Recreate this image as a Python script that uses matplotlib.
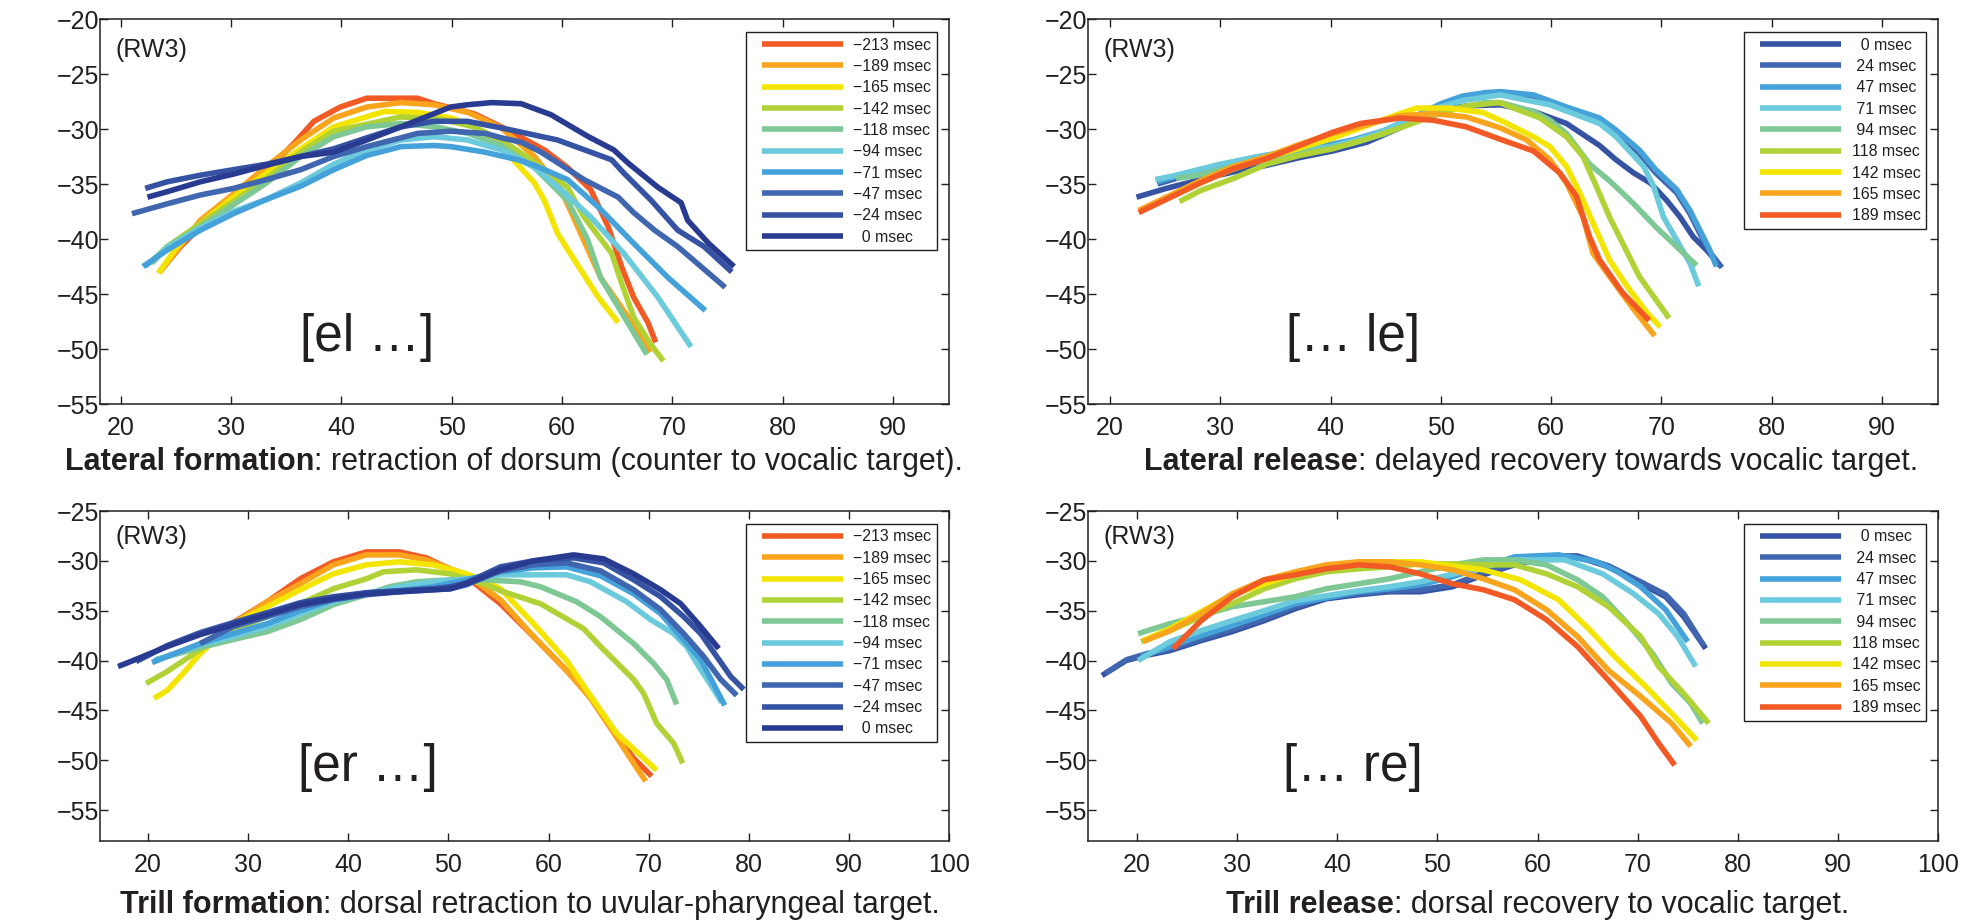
import matplotlib
matplotlib.use('Agg')
import matplotlib.pyplot as plt
from matplotlib.lines import Line2D
from matplotlib.legend_handler import HandlerLine2D
from matplotlib.transforms import IdentityTransform

plt.rcParams['font.family'] = ['Liberation Sans', 'DejaVu Sans']

TEXT = '#231F20'
C_RED = '#F15A24'
C_ORANGE = '#F8A51D'
C_YELLOW = '#F4E500'
C_YGREEN = '#B1D236'
C_GREEN = '#7DC895'
C_CYAN = '#6BCBDC'
C_BLUE = '#44A1DA'
C_MBLUE = '#3F66AF'
C_DBLUE = '#3653A3'
C_NAVY = '#283B90'

# ---------------- Panel 1: lateral formation ----------------
P1_LABELS = ['\u2212213 msec', '\u2212189 msec', '\u2212165 msec', '\u2212142 msec', '\u2212118 msec',
             '\u221294 msec', '\u221271 msec', '\u221247 msec', '\u221224 msec', '  0 msec']
P1_COLORS = [C_RED, C_ORANGE, C_YELLOW, C_YGREEN, C_GREEN, C_CYAN, C_BLUE, C_MBLUE, C_DBLUE, C_NAVY]
p1_x_m213 = [23.5, 25.4, 27.2, 29.6, 32.0, 33.9, 35.7, 37.5, 39.9, 42.3, 46.9, 48.4, 52.0, 54.5, 58.4, 60.5, 62.6, 64.2, 65.4, 66.5, 67.8, 68.5]
p1_y_m213 = [-43.0, -40.7, -38.9, -36.5, -34.6, -33.1, -31.3, -29.3, -28.0, -27.2, -27.2, -27.7, -28.6, -29.8, -31.9, -33.5, -35.5, -38.9, -42.5, -45.3, -47.6, -49.4]
p1_x_m189 = [23.5, 27.2, 30.2, 33.2, 36.3, 39.3, 42.3, 45.4, 48.4, 51.5, 54.5, 57.5, 59.9, 61.7, 63.5, 66.0, 68.0]
p1_y_m189 = [-43.0, -38.3, -35.9, -33.4, -31.0, -29.0, -28.0, -27.6, -27.8, -28.5, -29.9, -32.5, -35.5, -39.5, -43.5, -47.1, -50.3]
p1_x_m165 = [23.4, 25.1, 27.2, 30.2, 33.2, 36.3, 39.3, 43.9, 47.0, 50.0, 52.0, 54.5, 57.5, 58.4, 59.6, 61.5, 63.3, 65.1]
p1_y_m165 = [-43.1, -40.7, -38.6, -36.2, -34.0, -31.8, -29.8, -28.4, -28.5, -29.0, -29.8, -31.6, -34.9, -36.5, -39.5, -42.5, -45.3, -47.6]
p1_x_m142 = [22.6, 24.2, 27.2, 30.2, 33.2, 36.3, 39.3, 45.4, 49.0, 52.0, 54.5, 57.5, 60.5, 62.0, 64.5, 65.4, 66.5, 68.0, 69.2]
p1_y_m142 = [-42.2, -40.7, -38.6, -36.6, -34.5, -32.1, -30.2, -28.9, -29.1, -29.8, -31.0, -33.0, -35.3, -38.0, -41.3, -44.0, -47.1, -49.5, -51.1]
p1_x_m118 = [22.8, 24.2, 27.2, 30.2, 33.2, 36.3, 39.3, 42.3, 45.4, 48.5, 51.5, 54.5, 57.5, 60.5, 62.3, 63.5, 65.0, 66.5, 67.7]
p1_y_m118 = [-42.2, -40.7, -38.9, -36.9, -34.9, -32.5, -30.7, -29.8, -29.5, -29.8, -30.4, -31.5, -33.5, -36.5, -40.0, -43.5, -46.0, -48.5, -50.5]
p1_x_m94 = [22.2, 24.2, 27.2, 30.2, 33.2, 36.3, 39.3, 42.3, 45.4, 48.4, 51.4, 54.5, 57.5, 59.9, 62.6, 65.6, 68.7, 71.7]
p1_y_m94 = [-42.5, -40.8, -39.0, -37.5, -36.4, -34.9, -33.2, -31.9, -31.0, -30.7, -31.0, -31.9, -33.5, -35.5, -38.0, -41.3, -45.3, -49.8]
p1_x_m71 = [22.0, 24.2, 27.2, 30.2, 33.2, 36.3, 39.3, 42.3, 45.4, 48.4, 49.9, 53.0, 56.0, 57.5, 60.5, 63.3, 66.5, 69.6, 73.0]
p1_y_m71 = [-42.5, -41.0, -39.2, -37.7, -36.4, -35.2, -33.7, -32.4, -31.6, -31.5, -31.6, -32.1, -32.8, -33.3, -34.6, -37.1, -40.4, -43.5, -46.5]
p1_x_m47 = [21.0, 24.2, 27.2, 30.2, 33.2, 36.3, 39.3, 42.3, 45.4, 46.9, 49.9, 53.0, 54.5, 56.3, 58.1, 62.0, 65.1, 66.5, 68.4, 70.5, 72.6, 74.8]
p1_y_m47 = [-37.7, -36.8, -36.0, -35.4, -34.6, -33.7, -32.5, -31.6, -30.8, -30.4, -30.2, -30.4, -30.8, -31.2, -32.1, -34.6, -36.2, -37.6, -39.2, -40.7, -42.5, -44.4]
p1_x_m24 = [22.2, 24.2, 27.2, 30.2, 33.2, 36.3, 39.3, 42.3, 45.4, 48.4, 51.4, 54.5, 59.6, 64.5, 65.6, 68.1, 70.5, 72.9, 75.4]
p1_y_m24 = [-35.4, -34.8, -34.2, -33.7, -33.2, -32.5, -31.8, -30.8, -29.8, -29.3, -29.3, -29.9, -31.0, -32.8, -34.0, -36.5, -39.2, -40.7, -43.0]
p1_x_0 = [22.4, 24.2, 27.2, 30.2, 33.2, 36.3, 39.3, 42.3, 45.4, 48.4, 49.9, 51.4, 53.6, 56.3, 59.0, 62.4, 64.7, 66.0, 68.7, 70.8, 71.4, 73.3, 75.6]
p1_y_0 = [-36.2, -35.7, -34.8, -34.1, -33.3, -32.5, -32.1, -31.0, -29.8, -28.6, -28.0, -27.8, -27.6, -27.7, -28.7, -30.7, -31.9, -33.1, -35.3, -36.7, -38.3, -40.4, -42.5]

# ---------------- Panel 2: lateral release ----------------
P2_LABELS = ['  0 msec', ' 24 msec', ' 47 msec', ' 71 msec', ' 94 msec',
             '118 msec', '142 msec', '165 msec', '189 msec']
P2_COLORS = [C_DBLUE, C_MBLUE, C_BLUE, C_CYAN, C_GREEN, C_YGREEN, C_YELLOW, C_ORANGE, C_RED]
p2_x_0 = [22.4, 25.1, 28.2, 31.2, 34.2, 37.2, 40.2, 43.3, 46.3, 49.3, 52.3, 55.4, 58.4, 61.4, 63.2, 64.4, 65.9, 67.5, 69.0, 70.5, 71.7, 72.9, 74.1, 75.3]
p2_y_0 = [-36.2, -35.4, -34.6, -33.9, -33.3, -32.6, -32.0, -31.2, -29.9, -28.4, -27.9, -27.8, -28.4, -29.5, -30.7, -31.5, -32.8, -34.0, -34.9, -36.5, -38.0, -39.8, -41.0, -42.4]
p2_x_24 = [24.3, 27.0, 30.0, 33.0, 36.0, 39.0, 42.0, 45.0, 48.0, 50.0, 52.0, 54.0, 55.4, 58.4, 61.4, 64.4, 66.0, 68.0, 69.5, 71.4, 72.6, 73.5, 74.4, 75.5]
p2_y_24 = [-35.0, -34.2, -33.5, -32.8, -32.3, -31.8, -31.2, -30.3, -28.9, -27.9, -27.2, -26.9, -26.8, -27.0, -28.1, -29.2, -30.4, -32.2, -34.0, -35.8, -37.7, -39.5, -41.2, -42.6]
p2_x_47 = [24.3, 27.0, 30.0, 33.0, 36.0, 39.0, 42.0, 45.0, 48.0, 50.0, 52.0, 54.0, 55.4, 58.4, 61.4, 64.4, 65.9, 68.0, 69.5, 71.4, 72.6, 73.5, 74.4, 75.0]
p2_y_47 = [-34.8, -34.0, -33.3, -32.6, -32.1, -31.6, -31.0, -30.1, -28.7, -27.7, -27.0, -26.7, -26.6, -26.9, -28.0, -29.0, -30.1, -31.9, -33.7, -35.5, -37.4, -39.2, -41.0, -42.5]
p2_x_71 = [24.1, 26.0, 28.0, 30.0, 32.0, 34.0, 36.0, 38.0, 40.0, 42.0, 44.0, 46.0, 48.0, 50.0, 52.0, 55.4, 59.9, 64.4, 65.9, 68.4, 69.3, 70.2, 71.4, 72.6, 73.4]
p2_y_71 = [-34.6, -34.2, -33.7, -33.2, -32.8, -32.4, -32.1, -31.9, -31.6, -31.1, -30.5, -29.6, -28.8, -28.0, -27.4, -26.9, -27.8, -29.5, -30.7, -33.4, -35.2, -38.0, -40.1, -42.2, -44.3]
p2_x_94 = [26.0, 28.0, 30.0, 33.0, 36.0, 39.0, 42.0, 45.0, 48.0, 51.0, 54.0, 55.4, 58.4, 59.9, 61.4, 63.5, 65.3, 67.5, 69.5, 71.4, 73.2]
p2_y_94 = [-34.5, -34.2, -33.7, -33.0, -32.4, -31.9, -31.3, -30.4, -29.2, -28.2, -27.6, -27.6, -28.4, -29.2, -30.4, -33.2, -34.7, -36.8, -38.9, -40.7, -42.4]
p2_x_118 = [26.3, 28.2, 31.2, 34.2, 37.2, 40.2, 43.3, 46.3, 49.3, 52.3, 55.3, 59.0, 61.4, 62.9, 64.1, 65.3, 66.5, 68.0, 69.5, 70.7]
p2_y_118 = [-36.6, -35.6, -34.5, -33.2, -32.4, -31.8, -30.9, -29.9, -28.8, -27.9, -27.6, -29.0, -30.7, -32.5, -35.2, -38.0, -40.4, -43.4, -45.5, -47.2]
p2_x_142 = [23.0, 25.0, 28.0, 31.0, 34.0, 37.0, 40.0, 43.0, 46.3, 47.8, 50.8, 53.8, 55.4, 58.4, 59.9, 61.4, 62.6, 64.1, 65.3, 66.9, 68.7, 69.9]
p2_y_142 = [-37.3, -36.4, -35.0, -33.7, -32.7, -31.8, -30.9, -29.8, -28.6, -28.1, -28.1, -28.5, -29.2, -30.7, -31.6, -33.4, -35.8, -39.2, -41.9, -44.3, -46.7, -48.0]
p2_x_165 = [22.6, 25.1, 28.2, 31.2, 34.2, 37.2, 40.2, 43.3, 46.3, 49.3, 52.3, 55.4, 57.8, 59.9, 61.4, 62.9, 63.8, 65.3, 67.5, 69.4]
p2_y_165 = [-37.4, -36.2, -34.7, -33.4, -32.5, -31.4, -30.4, -29.6, -28.8, -28.6, -28.9, -29.9, -31.0, -32.8, -34.9, -38.0, -41.3, -43.4, -46.4, -48.8]
p2_x_189 = [22.6, 25.1, 28.2, 31.2, 34.2, 37.2, 40.2, 42.7, 46.3, 49.3, 52.3, 55.3, 58.4, 60.8, 62.3, 63.5, 64.4, 66.5, 68.9]
p2_y_189 = [-37.6, -36.4, -34.9, -33.6, -32.7, -31.5, -30.3, -29.5, -29.0, -29.2, -29.8, -30.9, -32.0, -34.0, -36.1, -39.8, -41.9, -44.9, -47.4]

# ---------------- Panel 3: trill formation ----------------
p3_x_m213 = [26.5, 28.5, 31.9, 35.2, 38.5, 41.8, 45.1, 47.8, 51.8, 55.2, 58.5, 61.8, 64.2, 66.2, 68.5, 70.3]
p3_y_m213 = [-37.3, -36.2, -34.1, -31.8, -30.1, -29.1, -29.1, -29.7, -31.6, -34.3, -37.6, -41.0, -43.6, -46.6, -49.8, -51.6]
p3_x_m189 = [27.0, 28.5, 31.9, 35.2, 38.5, 41.8, 45.1, 47.8, 51.8, 55.2, 58.5, 61.8, 64.2, 66.2, 68.5, 69.7]
p3_y_m189 = [-37.0, -36.3, -34.1, -32.3, -30.4, -29.4, -29.4, -29.9, -31.4, -33.9, -37.6, -41.0, -43.8, -46.8, -50.3, -52.1]
p3_x_m165 = [20.6, 21.9, 23.5, 25.2, 28.5, 31.9, 35.2, 38.5, 41.8, 45.1, 48.5, 51.8, 53.5, 55.2, 58.5, 61.8, 64.5, 66.8, 70.8]
p3_y_m165 = [-43.8, -43.0, -41.3, -39.3, -36.3, -34.6, -32.9, -31.3, -30.4, -30.1, -30.4, -31.3, -32.0, -32.8, -36.3, -40.0, -44.0, -47.3, -51.0]
p3_x_m142 = [19.8, 21.9, 25.2, 28.5, 31.9, 35.2, 38.5, 41.8, 43.5, 46.8, 50.2, 53.5, 55.2, 59.2, 63.5, 65.2, 68.5, 69.5, 70.8, 72.5, 73.4]
p3_y_m142 = [-42.3, -41.1, -38.9, -36.9, -35.6, -34.3, -32.8, -31.8, -31.1, -30.9, -31.3, -32.3, -33.0, -34.3, -36.8, -38.6, -41.9, -43.3, -46.3, -48.3, -50.3]
p3_x_m118 = [20.8, 25.2, 28.5, 31.9, 35.2, 38.5, 41.8, 44.1, 46.8, 50.2, 53.5, 57.2, 59.2, 62.8, 65.2, 68.5, 70.5, 71.8, 72.8]
p3_y_m118 = [-39.9, -38.7, -37.9, -37.1, -35.9, -34.4, -33.4, -32.6, -32.1, -31.9, -31.9, -32.1, -32.6, -34.1, -35.6, -38.3, -40.3, -41.9, -44.4]
p3_x_m94 = [20.6, 25.2, 28.5, 31.9, 35.2, 38.5, 41.8, 45.1, 48.5, 51.8, 55.2, 61.8, 64.2, 67.8, 70.2, 72.5, 73.8, 75.2, 76.5, 77.3]
p3_y_m94 = [-40.0, -38.4, -37.6, -36.6, -35.3, -34.1, -33.3, -32.6, -32.1, -31.8, -31.4, -31.4, -32.1, -34.1, -35.9, -37.3, -38.6, -40.9, -42.9, -44.2]
p3_x_m71 = [20.4, 25.2, 28.5, 31.9, 35.2, 38.5, 41.8, 45.1, 48.5, 51.8, 55.2, 58.5, 61.8, 65.2, 68.5, 71.2, 73.2, 75.2, 77.6]
p3_y_m71 = [-40.2, -38.3, -37.3, -36.3, -35.0, -33.9, -33.2, -33.0, -32.6, -31.9, -31.1, -30.7, -30.6, -31.5, -33.3, -35.3, -37.6, -39.9, -44.5]
p3_x_m47 = [25.2, 28.5, 31.9, 35.2, 38.5, 41.8, 45.1, 48.5, 50.2, 51.8, 55.2, 58.5, 61.8, 65.2, 68.5, 71.2, 73.5, 75.5, 77.2, 78.8]
p3_y_m47 = [-38.3, -36.6, -35.6, -34.6, -33.9, -33.4, -33.1, -32.9, -32.8, -32.4, -31.0, -30.4, -30.2, -31.0, -32.9, -34.9, -37.3, -39.6, -41.9, -43.5]
p3_x_m24 = [18.8, 21.9, 25.2, 28.5, 31.9, 35.2, 38.5, 41.8, 45.1, 48.5, 50.2, 51.8, 55.2, 58.5, 62.5, 65.5, 68.5, 71.2, 73.5, 75.2, 76.8, 78.2, 79.5]
p3_y_m24 = [-40.1, -38.5, -37.2, -36.2, -35.2, -34.2, -33.6, -33.2, -33.0, -32.8, -32.6, -32.2, -30.6, -30.0, -29.7, -30.2, -31.9, -33.6, -35.6, -37.3, -39.6, -41.6, -42.9]
p3_x_0 = [17.0, 18.5, 21.9, 25.2, 28.5, 31.9, 35.2, 38.5, 41.8, 45.1, 48.5, 50.2, 51.8, 55.2, 58.5, 62.5, 65.5, 68.5, 71.2, 73.2, 75.2, 77.0]
p3_y_0 = [-40.6, -40.0, -38.6, -37.4, -36.4, -35.4, -34.4, -33.8, -33.3, -33.1, -32.9, -32.8, -32.3, -30.9, -30.0, -29.4, -29.8, -31.3, -32.9, -34.3, -36.6, -38.8]

# ---------------- Panel 4: trill release ----------------
p4_x_0 = [16.5, 18.9, 20.8, 23.3, 26.4, 29.5, 32.7, 35.8, 38.9, 42.1, 45.2, 48.3, 51.5, 54.6, 57.7, 60.9, 64.0, 67.1, 70.3, 72.8, 74.6, 76.8]
p4_y_0 = [-41.5, -40.0, -39.5, -39.0, -38.0, -37.1, -36.0, -34.8, -33.8, -33.4, -33.1, -33.1, -32.6, -31.4, -30.4, -29.6, -29.6, -30.6, -32.3, -33.6, -35.6, -38.8]
p4_x_24 = [16.8, 19.0, 21.0, 23.5, 26.5, 29.5, 32.7, 35.8, 38.9, 42.1, 45.2, 48.3, 51.5, 54.6, 57.7, 60.9, 64.0, 67.1, 70.3, 72.8, 74.6, 76.6]
p4_y_24 = [-41.3, -39.9, -39.3, -38.8, -37.8, -36.9, -35.8, -34.6, -33.7, -33.3, -33.0, -32.9, -32.4, -31.2, -30.3, -29.5, -29.5, -30.5, -32.1, -33.4, -35.3, -38.5]
p4_x_47 = [20.4, 23.3, 26.4, 29.5, 32.7, 35.8, 38.9, 42.1, 45.2, 48.3, 51.5, 54.6, 57.7, 62.1, 65.9, 68.0, 70.3, 72.8, 75.0]
p4_y_47 = [-39.6, -38.6, -37.5, -36.5, -35.4, -34.3, -33.7, -33.1, -32.8, -32.4, -31.6, -30.6, -29.6, -29.4, -30.1, -31.1, -32.6, -34.9, -38.1]
p4_x_71 = [20.1, 23.3, 26.4, 29.5, 32.7, 35.8, 38.9, 42.1, 45.2, 48.3, 53.3, 57.7, 62.7, 66.5, 69.6, 72.1, 74.0, 75.8]
p4_y_71 = [-40.0, -38.1, -37.0, -36.0, -35.0, -34.0, -33.5, -33.0, -32.6, -32.1, -30.9, -29.9, -29.9, -31.3, -33.3, -35.3, -37.6, -40.6]
p4_x_94 = [20.1, 23.3, 26.4, 29.5, 32.7, 35.8, 38.9, 42.1, 45.2, 48.3, 51.5, 54.6, 57.7, 60.9, 64.0, 66.5, 69.0, 71.5, 73.4, 75.3, 76.5]
p4_y_94 = [-37.3, -36.3, -35.5, -34.6, -34.1, -33.6, -32.8, -32.3, -31.8, -31.1, -30.4, -29.9, -29.9, -30.4, -31.9, -33.6, -36.3, -39.3, -42.3, -44.3, -46.3]
p4_x_118 = [20.4, 23.3, 26.4, 29.5, 32.7, 35.8, 38.9, 42.1, 45.2, 48.3, 51.5, 54.6, 57.7, 60.9, 64.0, 67.1, 70.3, 72.1, 74.6, 77.1]
p4_y_118 = [-38.1, -37.0, -35.6, -34.3, -32.8, -31.8, -31.1, -30.8, -30.6, -30.3, -30.3, -30.4, -30.4, -31.3, -32.6, -34.6, -37.6, -40.6, -43.3, -46.3]
p4_x_142 = [20.6, 23.3, 29.5, 35.8, 42.1, 48.3, 54.6, 58.3, 62.1, 65.2, 67.7, 70.8, 73.4, 75.9]
p4_y_142 = [-38.0, -36.8, -33.4, -31.3, -30.1, -30.1, -30.9, -31.9, -33.9, -36.9, -39.6, -42.6, -45.3, -48.0]
p4_x_165 = [20.6, 23.3, 26.4, 29.5, 32.7, 35.8, 38.9, 42.1, 45.2, 48.3, 51.5, 54.6, 57.7, 60.9, 64.0, 67.1, 70.3, 73.4, 75.3]
p4_y_165 = [-38.1, -37.0, -35.3, -33.3, -31.9, -31.1, -30.4, -30.1, -30.1, -30.4, -30.9, -31.8, -32.9, -34.9, -37.6, -41.0, -43.6, -46.3, -48.6]
p4_x_189 = [23.6, 26.4, 29.5, 32.7, 35.8, 38.9, 42.1, 45.2, 48.3, 51.5, 54.6, 57.7, 60.9, 64.0, 67.1, 70.3, 72.1, 73.7]
p4_y_189 = [-38.8, -36.0, -33.6, -31.9, -31.4, -30.8, -30.4, -30.6, -31.3, -32.3, -32.9, -33.9, -35.9, -38.6, -42.0, -45.6, -48.3, -50.5]

XTICKS_A = [20, 30, 40, 50, 60, 70, 80, 90]
XTICKS_B = [20, 30, 40, 50, 60, 70, 80, 90, 100]
YTICKS_A = [-55, -50, -45, -40, -35, -30, -25, -20]
YTICKS_B = [-55, -50, -45, -40, -35, -30, -25]

W, H = 1964, 921
fig = plt.figure(figsize=(W / 100, H / 100), dpi=100)


def px_axes(left, top, right, bottom):
    return fig.add_axes([left / W, 1 - bottom / H, (right - left) / W, (bottom - top) / H])


def style(ax, xlim, ylim, xticks, yticks):
    ax.set_xlim(*xlim)
    ax.set_ylim(*ylim)
    ax.set_xticks(xticks)
    ax.set_yticks(yticks)
    ax.tick_params(direction='in', length=5.5, width=1.0, color=TEXT, labelsize=18,
                   labelcolor=TEXT, top=True, right=True)
    ax.tick_params(axis='y', pad=0.5)
    ax.tick_params(axis='x', pad=8.5)
    for s in ax.spines.values():
        s.set_linewidth(1.1)
        s.set_color(TEXT)


def add_legend(ax, lines, labels, anchor):
    leg = ax.legend(lines, labels, loc='upper right', bbox_to_anchor=anchor, borderaxespad=0,
                    fontsize=11.4, handlelength=6.43, handletextpad=0.0, borderpad=0.35,
                    labelspacing=0.40, frameon=True, fancybox=False, framealpha=1,
                    edgecolor=TEXT,
                    handler_map={Line2D: HandlerLine2D(numpoints=2, marker_pad=0.65)})
    leg.get_frame().set_linewidth(1.0)
    for t in leg.get_texts():
        t.set_color(TEXT)
    return leg


def draw(ax, xs, ys, colors, labels, anchor):
    lines = []
    for x, y, c in zip(xs, ys, colors):
        ln, = ax.plot(x, y, color=c, lw=4.0, solid_joinstyle='round', solid_capstyle='butt')
        lines.append(ln)
    add_legend(ax, lines, labels, anchor)


ax1 = px_axes(100, 19, 949, 404)
ax2 = px_axes(1088, 19, 1938, 404)
ax3 = px_axes(100, 511, 949, 841)
ax4 = px_axes(1088, 511, 1938, 841)

style(ax1, (18.1, 95.1), (-55, -20), XTICKS_A, YTICKS_A)
style(ax2, (18.0, 95.1), (-55, -20), XTICKS_A, YTICKS_A)
style(ax3, (15.2, 100), (-58.1, -25), XTICKS_B, YTICKS_B)
style(ax4, (15.1, 100), (-58.1, -25), XTICKS_B, YTICKS_B)

draw(ax1,
     [p1_x_m213, p1_x_m189, p1_x_m165, p1_x_m142, p1_x_m118, p1_x_m94, p1_x_m71, p1_x_m47, p1_x_m24, p1_x_0],
     [p1_y_m213, p1_y_m189, p1_y_m165, p1_y_m142, p1_y_m118, p1_y_m94, p1_y_m71, p1_y_m47, p1_y_m24, p1_y_0],
     P1_COLORS, P1_LABELS, (0.986, 0.966))
draw(ax2,
     [p2_x_0, p2_x_24, p2_x_47, p2_x_71, p2_x_94, p2_x_118, p2_x_142, p2_x_165, p2_x_189],
     [p2_y_0, p2_y_24, p2_y_47, p2_y_71, p2_y_94, p2_y_118, p2_y_142, p2_y_165, p2_y_189],
     P2_COLORS, P2_LABELS, (0.986, 0.966))
draw(ax3,
     [p3_x_m213, p3_x_m189, p3_x_m165, p3_x_m142, p3_x_m118, p3_x_m94, p3_x_m71, p3_x_m47, p3_x_m24, p3_x_0],
     [p3_y_m213, p3_y_m189, p3_y_m165, p3_y_m142, p3_y_m118, p3_y_m94, p3_y_m71, p3_y_m47, p3_y_m24, p3_y_0],
     P1_COLORS, P1_LABELS, (0.986, 0.961))
draw(ax4,
     [p4_x_0, p4_x_24, p4_x_47, p4_x_71, p4_x_94, p4_x_118, p4_x_142, p4_x_165, p4_x_189],
     [p4_y_0, p4_y_24, p4_y_47, p4_y_71, p4_y_94, p4_y_118, p4_y_142, p4_y_165, p4_y_189],
     P2_COLORS, P2_LABELS, (0.986, 0.961))

for ax, pos, lab in [(ax1, (0.315, 0.174), '[el \u2026]'), (ax2, (0.312, 0.174), '[\u2026 le]'),
                     (ax3, (0.316, 0.224), '[er \u2026]'), (ax4, (0.312, 0.224), '[\u2026 re]')]:
    ax.text(0.018, 0.92, '(RW3)', transform=ax.transAxes, fontsize=18, color=TEXT,
            ha='left', va='center')
    ax.text(pos[0], pos[1], lab, transform=ax.transAxes, fontsize=37, color=TEXT,
            ha='center', va='center')

renderer = fig.canvas.get_renderer()


def caption(cx, baseline, bold, rest, size=22):
    y = H - baseline
    t1 = fig.text(0, y, bold, fontsize=size, fontweight='bold', color=TEXT,
                  transform=IdentityTransform(), ha='left', va='baseline')
    t2 = fig.text(0, y, rest, fontsize=size, color=TEXT,
                  transform=IdentityTransform(), ha='left', va='baseline')
    w1 = t1.get_window_extent(renderer).width
    w2 = t2.get_window_extent(renderer).width
    x0 = cx - (w1 + w2) / 2
    t1.set_x(x0)
    t2.set_x(x0 + w1)


caption(514, 470, 'Lateral formation', ': retraction of dorsum (counter to vocalic target).')
caption(1531, 470, 'Lateral release', ': delayed recovery towards vocalic target.')
caption(530, 913, 'Trill formation', ': dorsal retraction to uvular-pharyngeal target.')
caption(1538, 913, 'Trill release', ': dorsal recovery to vocalic target.')

fig.savefig('out.png', dpi=100)
